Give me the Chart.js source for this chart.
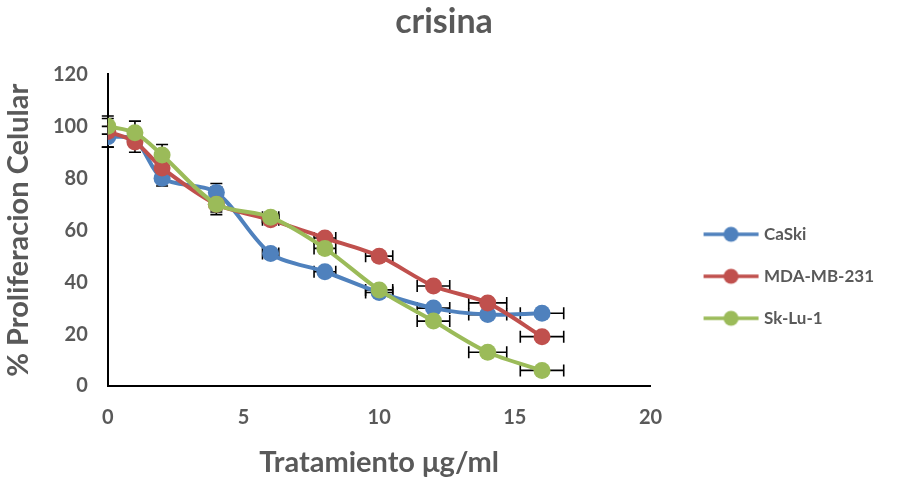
<html lang="es">
<head>
  <meta charset="UTF-8">
  <title>crisina</title>
  <style>
    body { margin: 0; background: #fff; }
  </style>
  <script src="https://cdn.jsdelivr.net/npm/chart.js@4.4.1/dist/chart.umd.min.js"></script>
</head>
<body>
  <canvas id="chart" width="899" height="479"></canvas>
  <script>
    const doses = [0, 1, 2, 4, 6, 8, 10, 12, 14, 16]
    const doseErr = [0, 0.05, 0.1, 0.2, 0.3, 0.4, 0.5, 0.6, 0.7, 0.8]

    const caski = [96, 95, 80, 74.5, 51, 44, 36, 30, 27.5, 28]
    const caskiErr = [4, 2, 3, 3.5, 1.5, 1.5, 1.5, 1, 1, 1]
    const mda = [98, 94, 84, 70, 64, 57, 50, 38.5, 32, 19]
    const mdaErr = [6, 4, 3, 3, 2, 2, 1.5, 1, 1, 1]
    const sklu = [100, 97.5, 89, 70, 65, 53, 37, 25, 13, 6]
    const skluErr = [3, 4.5, 4, 4, 2, 2, 1.5, 1, 1, 1]

    const names = ["CaSki", "MDA-MB-231", "Sk-Lu-1"]
    const colors = ["rgb(79, 129, 189)", "rgb(192, 80, 77)", "rgb(155, 187, 89)"]
    const grey = "#595959"

    // legend swatch: line with a dot
    const legendMark = (color) => {
      const c = document.createElement("canvas")
      c.width = 64
      c.height = 18
      const g = c.getContext("2d")
      g.strokeStyle = color
      g.lineWidth = 3.5
      g.beginPath()
      g.moveTo(8, 9)
      g.lineTo(63, 9)
      g.stroke()
      g.fillStyle = color
      g.beginPath()
      g.arc(35.5, 9, 7.5, 0, Math.PI * 2)
      g.fill()
      return c
    }

    const makeSet = (i, values, errs) => ({
      label: names[i],
      data: doses.map((d, k) => ({ x: d, y: values[k] })),
      yErr: errs,
      borderColor: colors[i],
      backgroundColor: colors[i],
      borderWidth: 4,
      pointRadius: 8.5,
      pointHoverRadius: 8.5,
      pointBorderWidth: 0,
      pointStyle: "circle",
      legendMark: legendMark(colors[i]),
      tension: 0.3,
      order: 2 - i,
    })

    // whiskers drawn through the chart scales
    const errorBars = {
      id: "errorBars",
      beforeDatasetsDraw(chart) {
        const { ctx, scales: { x, y } } = chart
        ctx.save()
        ctx.strokeStyle = "#000"
        ctx.lineWidth = 1.6
        chart.data.datasets.forEach((ds) => {
          ds.data.forEach((p, k) => {
            const px = x.getPixelForValue(p.x)
            const py = y.getPixelForValue(p.y)
            const e = ds.yErr[k]
            if (e) {
              const top = y.getPixelForValue(p.y + e)
              const bot = y.getPixelForValue(p.y - e)
              ctx.beginPath()
              ctx.moveTo(px, top); ctx.lineTo(px, bot)
              ctx.moveTo(px - 6, top); ctx.lineTo(px + 6, top)
              ctx.moveTo(px - 6, bot); ctx.lineTo(px + 6, bot)
              ctx.stroke()
            }
            const h = doseErr[k]
            if (h) {
              const l = x.getPixelForValue(p.x - h)
              const r = x.getPixelForValue(p.x + h)
              ctx.beginPath()
              ctx.moveTo(l, py); ctx.lineTo(r, py)
              ctx.moveTo(l, py - 6); ctx.lineTo(l, py + 6)
              ctx.moveTo(r, py - 6); ctx.lineTo(r, py + 6)
              ctx.stroke()
            }
          })
        })
        ctx.restore()
      }
    }

    const tickFont = { family: "Lato", size: 20, weight: "bold" }

    new Chart(document.getElementById("chart"), {
      type: "line",
      data: {
        datasets: [
          makeSet(0, caski, caskiErr),
          makeSet(1, mda, mdaErr),
          makeSet(2, sklu, skluErr),
        ]
      },
      options: {
        responsive: false,
        animation: false,
        layout: { padding: { left: 4, right: 15, top: 2, bottom: 2 } },
        plugins: {
          tooltip: { enabled: false },
          title: {
            display: true,
            text: "crisina",
            color: grey,
            font: { family: "Lato", size: 34, weight: "bold", lineHeight: 1.1 },
            padding: { top: 1, bottom: 34 },
          },
          legend: {
            position: "right",
            align: "center",
            maxWidth: 240,
            title: {
              display: true,
              text: " ",
              padding: { top: 24, bottom: 28 },
              font: { family: "Lato", size: 18 },
            },
            labels: {
              usePointStyle: true,
              pointStyleWidth: 56,
              padding: 25,
              color: grey,
              font: { family: "Lato", size: 17, weight: "bold" },
              sort: (a, b) => a.datasetIndex - b.datasetIndex,
              generateLabels(chart) {
                return chart.data.datasets.map((ds, i) => ({
                  text: ds.label,
                  datasetIndex: i,
                  pointStyle: ds.legendMark,
                  fillStyle: ds.backgroundColor,
                  strokeStyle: ds.borderColor,
                  lineWidth: 0,
                  fontColor: grey,
                  hidden: false,
                }))
              }
            }
          }
        },
        scales: {
          x: {
            type: "linear",
            min: 0,
            max: 20,
            grid: { display: false },
            border: { color: "#000", width: 2 },
            ticks: { stepSize: 5, color: grey, padding: 12, font: tickFont },
            title: { display: true, text: "Tratamiento μg/ml", color: grey, padding: { top: 6, bottom: 0 }, font: { family: "Lato", size: 29, weight: "bold", lineHeight: 1 } },
          },
          y: {
            min: 0,
            max: 120,
            grid: { display: false },
            border: { color: "#000", width: 2 },
            ticks: { stepSize: 20, color: grey, padding: 12, font: tickFont },
            title: { display: true, text: "% Proliferacion Celular", color: grey, padding: { top: 0, bottom: 8 }, font: { family: "Lato", size: 29, weight: "bold", lineHeight: 1 } },
          },
          // empty strip between plot and legend
          gap: {
            position: "right",
            grid: { display: false },
            border: { display: false },
            ticks: { display: false },
            afterFit: (s) => { s.width = 24 },
          }
        }
      },
      plugins: [errorBars]
    })
  </script>
</body>
</html>
